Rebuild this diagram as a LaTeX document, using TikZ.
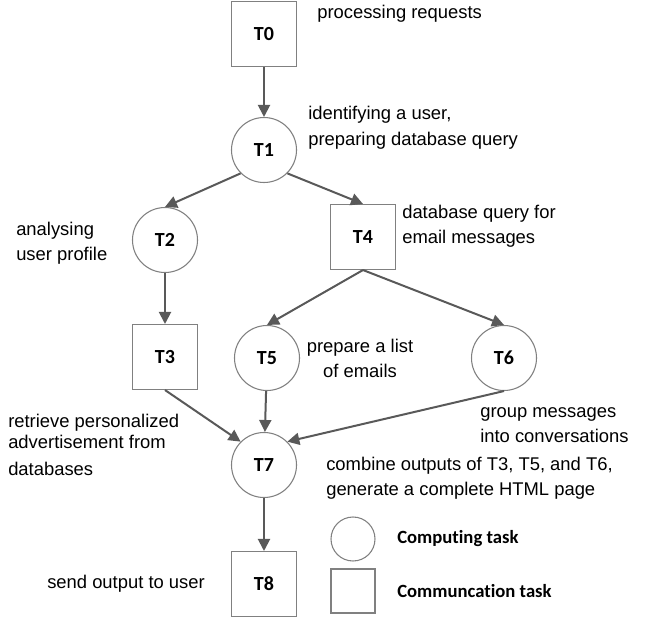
\documentclass[tikz,border=0pt]{standalone}
\usepackage{fontspec}
\setmainfont{Liberation Sans}
\newfontfamily\lblfont{Carlito}[Ligatures=NoCommon]
\usetikzlibrary{arrows.meta}
\definecolor{arrowgray}{HTML}{595959}
\definecolor{boxgray}{HTML}{808080}
\begin{document}
\begin{tikzpicture}[x=0.75pt,y=-0.75pt,
  lbl/.style={font=\lblfont\bfseries\fontsize{15}{17}\selectfont},
  comp/.style={circle, draw=boxgray, line width=0.8pt, minimum size=48.75pt, inner sep=0pt, lbl},
  comm/.style={rectangle, draw=boxgray, line width=0.8pt, minimum size=48.75pt, inner sep=0pt, lbl},
  flow/.style={draw=arrowgray, line width=1.5pt, -{Triangle[length=9pt,width=9pt]}},
  % multi-line notes are anchored at the baseline of their last line
  note/.style={align=left, inner sep=0pt, anchor=base west, font=\fontsize{13.8}{18.75}\selectfont},
  legendtxt/.style={inner sep=0pt, anchor=west, font=\lblfont\bfseries\fontsize{14}{17}\selectfont},
]
\useasboundingbox (0,0) rectangle (659,617);

% task nodes
\node[comm] (T0) at (264,34)  {T0};
\node[comp] (T1) at (264,150) {T1};
\node[comp] (T2) at (165,240) {T2};
\node[comm] (T3) at (165,357) {T3};
\node[comm] (T4) at (363,237) {T4};
\node[comp] (T5) at (267,358) {T5};
\node[comp] (T6) at (504,358) {T6};
\node[comp] (T7) at (264,465) {T7};
\node[comm] (T8) at (264,584) {T8};

% dependencies
\draw[flow] (T0) -- (T1);
\draw[flow] (T1.south west) -- (T2.north);
\draw[flow] (T1.south east) -- (T4.north);
\draw[flow] (T2) -- (T3);
\draw[flow] (T4.south) -- (T5.north);
\draw[flow] (T4.south) -- (T6.north);
\draw[flow] (T3.south) -- (T7.north west);
\draw[flow] (T5) -- (T7);
\draw[flow] (T6.south) -- (T7.north east);
\draw[flow] (T7) -- (T8);

% descriptions
\node[note] (d0) at (317,19) {processing requests};
\node[note, font=\fontsize{13.8}{19.5}\selectfont] (d1) at (308,145) {identifying a user,\\preparing database query};
\node[note] (d2) at (16,260) {analysing\\user profile};
\node[note] (d4) at (402,243) {database query for\\email messages};
\node[note, align=center, anchor=base] (d5) at (360,377) {prepare a list\\of emails};
\node[note] (d6) at (480,442) {group messages\\into conversations};
\node[note, font=\fontsize{13.8}{18}\selectfont] (d3) at (8,475) {retrieve personalized\\[-2.25pt]advertisement from\\[2.25pt]databases};
\node[note] (d7) at (326,495) {combine outputs of T3, T5, and T6,\\generate a complete HTML page};
\node[note] (d8) at (47,588) {send output to user};

% legend
\node[circle, draw=boxgray, line width=0.8pt, minimum size=33pt, inner sep=0pt] (lc) at (353,539) {};
\node[rectangle, draw=boxgray, line width=0.8pt, minimum size=33pt, inner sep=0pt] (ls) at (353,591) {};
\node[legendtxt] (lct) at (397,539) {Computing task};
\node[legendtxt] (lst) at (397,591) {Communcation task};
\end{tikzpicture}
\end{document}
